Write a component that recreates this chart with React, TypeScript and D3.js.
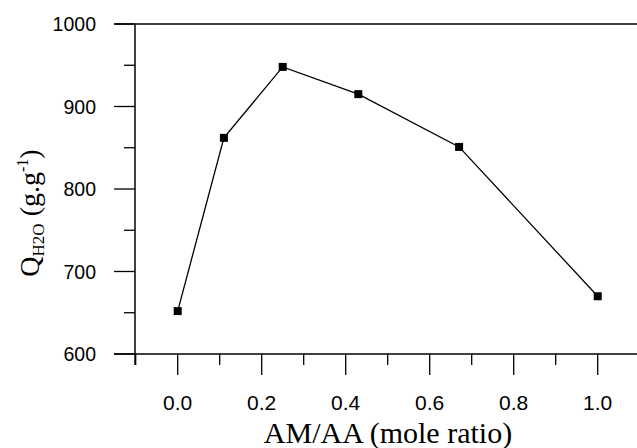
import React from "react";
import * as d3 from "d3";

const ratios = [0.0, 0.11, 0.25, 0.43, 0.67, 1.0];
const absorbency = [652, 862, 948, 915, 851, 670];
const xMajorTicks = [0, 0.2, 0.4, 0.6, 0.8, 1.0];
const xMinorTicks = [-0.1, 0.1, 0.3, 0.5, 0.7, 0.9, 1.1];
const yMajorTicks = [600, 700, 800, 900, 1000];
const yMinorTicks = [650, 750, 850, 950];

const W = 637;
const H = 448;

export default function App() {
  const x = d3.scaleLinear().domain([-0.1, 1.1]).range([135.7, 639.7]);
  const y = d3.scaleLinear().domain([600, 1000]).range([354, 24]);
  const axisX = 135;
  const pts = ratios.map((r, i) => [x(r), y(absorbency[i])] as [number, number]);
  const line = d3.line()(pts) || "";
  const sans = "Arial, 'Liberation Sans', Helvetica, sans-serif";
  const serif = "'Times New Roman', 'Liberation Serif', Times, serif";
  return (
    <svg width={W} height={H} style={{ position: "absolute", left: 0, top: 0, background: "#fff" }}>
      {/* frame lines */}
      <line x1={axisX - 21} x2={W} y1={y(1000)} y2={y(1000)} stroke="#000" strokeWidth={1.5} />
      <line x1={axisX - 21} x2={W} y1={y(600)} y2={y(600)} stroke="#000" strokeWidth={1.5} />
      <line x1={axisX} x2={axisX} y1={y(1000)} y2={y(600) + 11} stroke="#000" strokeWidth={1.5} />
      {/* y ticks */}
      {yMajorTicks.map((v) => (
        <g key={"ym" + v}>
          <line x1={axisX - 21} x2={axisX} y1={y(v)} y2={y(v)} stroke="#000" strokeWidth={1.3} />
          <text x={96} y={y(v) + 7} textAnchor="end" fontFamily={sans} fontSize={19.5} fill="#000">
            {v}
          </text>
        </g>
      ))}
      {yMinorTicks.map((v) => (
        <line key={"yn" + v} x1={axisX - 11} x2={axisX} y1={y(v)} y2={y(v)} stroke="#000" strokeWidth={1.3} />
      ))}
      {/* x ticks */}
      {xMajorTicks.map((v) => (
        <g key={"xm" + v}>
          <line x1={x(v)} x2={x(v)} y1={y(600)} y2={y(600) + 21} stroke="#000" strokeWidth={1.3} />
          <text x={x(v)} y={410} textAnchor="middle" fontFamily={sans} fontSize={21} fill="#000">
            {d3.format(".1f")(v)}
          </text>
        </g>
      ))}
      {xMinorTicks.map((v) => (
        <line key={"xn" + v} x1={x(v)} x2={x(v)} y1={y(600)} y2={y(600) + 11} stroke="#000" strokeWidth={1.3} />
      ))}
      {/* data */}
      <path d={line} fill="none" stroke="#000" strokeWidth={1.3} />
      {pts.map(([px, py], i) => (
        <rect key={"p" + i} x={px - 4} y={py - 4} width={8} height={8} fill="#000" />
      ))}
      {/* titles */}
      <text x={388} y={443} textAnchor="middle" fontFamily={serif} fontSize={30} fill="#000">
        AM/AA (mole ratio)
      </text>
      <text
        transform={`translate(39, 213) rotate(-90)`}
        textAnchor="middle"
        fontFamily={serif}
        fontSize={28}
        fill="#000"
      >
        <tspan>Q</tspan>
        <tspan fontSize={17} dy={5}>H2O</tspan>
        <tspan dy={-5}> (g.g</tspan>
        <tspan fontSize={16} dy={-11}>-1</tspan>
        <tspan dy={11}>)</tspan>
      </text>
    </svg>
  );
}
